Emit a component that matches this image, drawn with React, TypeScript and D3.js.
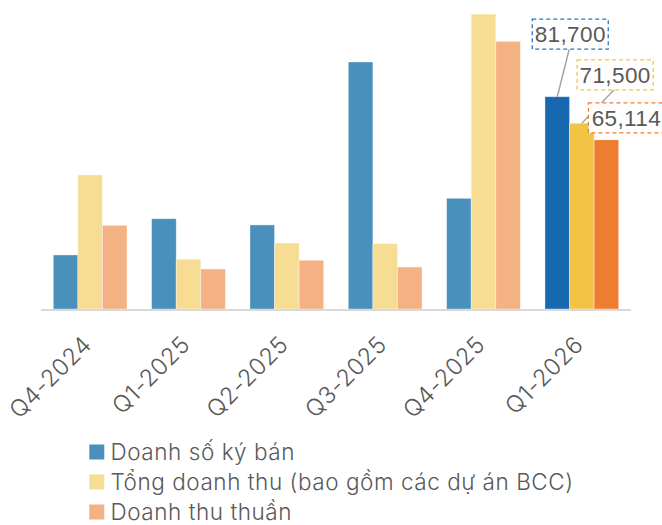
import React from "react";
import * as d3 from "d3";

const categories = ["Q4-2024", "Q1-2025", "Q2-2025", "Q3-2025", "Q4-2025", "Q1-2026"];
const seriesNames = ["Doanh số ký bán", "Tổng doanh thu (bao gồm các dự án BCC)", "Doanh thu thuần"];
const salesValues = [20800, 34750, 32350, 95050, 42600, 81700];
const totalRevenueValues = [51600, 19150, 25400, 25150, 113500, 71500];
const netRevenueValues = [32200, 15400, 18750, 16150, 103000, 65114];
const seriesValues = [salesValues, totalRevenueValues, netRevenueValues];

const baseColors = ["#4A90BC", "#F7DC93", "#F4B183"];
const highlightColors = ["#1868B1", "#F1C445", "#ED7D31"];
const boxStroke = ["#2E75B6", "#F1C445", "#ED7D31"];

const W = 662;
const H = 525;
const baseY = 309;

export default function App() {
  const x0 = d3.scaleBand<string>().domain(categories).range([41, 631]).paddingInner(0.25).paddingOuter(0.125);
  const x1 = d3.scaleBand<number>().domain([0, 1, 2]).range([0, x0.bandwidth()]).padding(0);
  const y = d3.scaleLinear().domain([0, 100000]).range([baseY, baseY - 259.85]);

  const lastIdx = categories.length - 1;
  const lastCat = categories[lastIdx];
  const labelOffsets = [
    { dx: 13, dy: -62.5, leader: true },
    { dx: 33.3, dy: -48.4, leader: true },
    { dx: 20, dy: -22, leader: false },
  ];
  const boxW = 76;
  const boxH = 30;
  const fmt = d3.format(",");

  const labelFont = "Inter, 'Noto Sans', sans-serif";

  return (
    <svg width={W} height={H} style={{ position: "absolute", left: 0, top: 0, background: "#fff" }}>
      <rect x={0} y={0} width={W} height={H} fill="#fff" />
      {categories.map((c, ci) => (
        <g key={c} transform={`translate(${x0(c)},0)`}>
          {seriesValues.map((vals, si) => (
            <rect
              key={si}
              x={x1(si)}
              y={y(vals[ci])}
              width={x1.bandwidth()}
              height={baseY - y(vals[ci])}
              fill={ci === lastIdx ? highlightColors[si] : baseColors[si]}
              stroke="#ffffff"
              strokeOpacity={0.45}
              strokeWidth={0.8}
            />
          ))}
        </g>
      ))}
      <line x1={41} x2={631} y1={310} y2={310} stroke="#D9D9D9" strokeWidth={2} />

      {seriesValues.map((vals, si) => {
        const o = labelOffsets[si];
        if (!o.leader) return null;
        const bx = (x0(lastCat) as number) + (x1(si) as number) + x1.bandwidth() / 2;
        const by = y(vals[lastIdx]);
        const cx = bx + o.dx;
        const cy = by + o.dy;
        return (
          <line key={"l" + si} x1={cx - 1} y1={cy + boxH / 2} x2={bx} y2={by} stroke="#A6A6A6" strokeWidth={1.5} />
        );
      })}
      {seriesValues.map((vals, si) => {
        const o = labelOffsets[si];
        const bx = (x0(lastCat) as number) + (x1(si) as number) + x1.bandwidth() / 2;
        const by = y(vals[lastIdx]);
        const cx = bx + o.dx;
        const cy = by + o.dy;
        return (
          <g key={"b" + si}>
            <rect
              x={cx - boxW / 2}
              y={cy - boxH / 2}
              width={boxW}
              height={boxH}
              fill="#fff"
              stroke={boxStroke[si]}
              strokeWidth={1.3}
              strokeDasharray="4 3"
            />
            <text
              x={cx}
              y={cy + 8}
              textAnchor="middle"
              fontFamily="'Liberation Sans', Arial, sans-serif"
              fontSize={22.5}
              letterSpacing={0.4}
              fill="#595959"
            >
              {fmt(vals[lastIdx])}
            </text>
          </g>
        );
      })}

      {categories.map((c) => {
        const cx = (x0(c) as number) + x0.bandwidth() / 2;
        return (
          <text
            key={"t" + c}
            transform={`translate(${cx + 3},346) rotate(-45)`}
            textAnchor="end"
            fontFamily={labelFont}
            fontWeight={300}
            fontSize={23.5}
            letterSpacing={0.6}
            fill="#595959"
          >
            {c}
          </text>
        );
      })}

      {seriesNames.map((n, si) => {
        const cy = 452 + si * 30;
        return (
          <g key={"lg" + si}>
            <rect x={89.3} y={cy - 7.5} width={15} height={15} fill={baseColors[si]} />
            <text x={110.5} y={cy + 7.5} fontFamily={labelFont} fontWeight={300} fontSize={22.5} letterSpacing={0.55} fill="#595959">
              {n}
            </text>
          </g>
        );
      })}
    </svg>
  );
}
